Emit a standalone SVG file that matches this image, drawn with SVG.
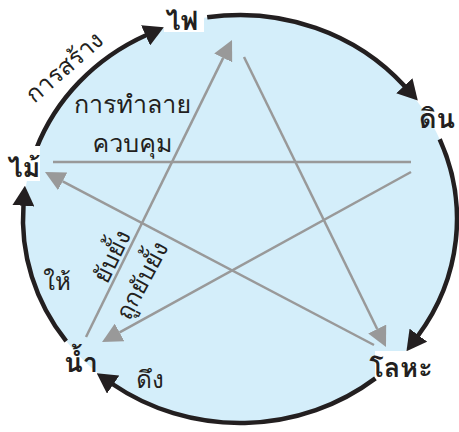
<svg xmlns="http://www.w3.org/2000/svg" width="459" height="432" viewBox="0 0 459 432">
<defs>
<style>
.lbl{font-family:"Loma","Garuda","Tlwg Typo","Noto Sans Thai","Noto Sans","DejaVu Sans",sans-serif;fill:#231F20}
.el{font-size:27px;font-weight:bold;text-anchor:middle}
.rel{font-size:24px;text-anchor:middle}
.blk{fill:none;stroke:#231F20;stroke-width:4.5}
.gry{fill:none;stroke:#999999;stroke-width:2.5}
</style>
<marker id="ab" viewBox="0 0 20 22" refX="1" refY="11" markerWidth="20" markerHeight="22" markerUnits="userSpaceOnUse" orient="auto"><path d="M0,0 L20,11 L0,22 Z" fill="#231F20"/></marker>
<marker id="ag" viewBox="0 0 20 20" refX="0" refY="10" markerWidth="20" markerHeight="20" markerUnits="userSpaceOnUse" orient="auto"><path d="M0,0 L20,10 L0,20 Z" fill="#999999"/></marker>
</defs>
<ellipse cx="240" cy="219" rx="217" ry="204" fill="#D4EEFA"/>
<g id="connectors">
<path class="blk" d="M36.1,149.2 A217,204 0 0 1 146.5,35" marker-end="url(#ab)"/>
<path class="blk" d="M207.2,17.3 A217,204 0 0 1 405,86.5" marker-end="url(#ab)"/>
<path class="blk" d="M439.7,139.3 A217,204 0 0 1 417.8,336" marker-end="url(#ab)"/>
<path class="blk" d="M375.4,378.4 A217,204 0 0 1 112.4,384" marker-end="url(#ab)"/>
<path class="blk" d="M66.2,341.2 A217,204 0 0 1 23.5,204.8" marker-end="url(#ab)"/>
<path class="gry" d="M86,337 L223.2,57.9" marker-end="url(#ag)"/>
<path class="gry" d="M244,57 L377.2,329" marker-end="url(#ag)"/>
<path class="gry" d="M411,162 L53,162"/>
<path class="gry" d="M374,345 L62.7,181.3" marker-end="url(#ag)"/>
<path class="gry" d="M411,172 L119.6,332.4" marker-end="url(#ag)"/>
</g>
<g id="fire"><rect x="164" y="0" width="40" height="32" fill="#fff"/><text class="lbl el" x="182" y="30">ไฟ</text></g>
<g id="earth"><text class="lbl el" x="437" y="128">ดิน</text></g>
<g id="wood"><rect x="5" y="146" width="35" height="35" fill="#fff"/><text class="lbl el" x="24" y="177">ไม้</text></g>
<g id="water"><text class="lbl el" x="81" y="372">น้ำ</text></g>
<g id="metal"><rect x="375" y="351" width="56" height="27" fill="#fff"/><text class="lbl el" x="401" y="377">โลหะ</text></g>
<g id="labels">
<text class="lbl rel" transform="translate(65,68) rotate(-41)" x="0" y="7">การสร้าง</text>
<text class="lbl rel" x="132.5" y="113" style="font-size:25px">การทำลาย</text>
<text class="lbl rel" x="132.5" y="152" style="font-size:25px">ควบคุม</text>
<text class="lbl rel" transform="translate(113,257) rotate(-64)" x="0" y="7">ยับยั้ง</text>
<text class="lbl rel" transform="translate(143,281) rotate(-62)" x="0" y="7">ถูกยับยั้ง</text>
<text class="lbl rel" x="57" y="290">ให้</text>
<text class="lbl rel" x="150" y="388">ดึง</text>
</g>
</svg>
